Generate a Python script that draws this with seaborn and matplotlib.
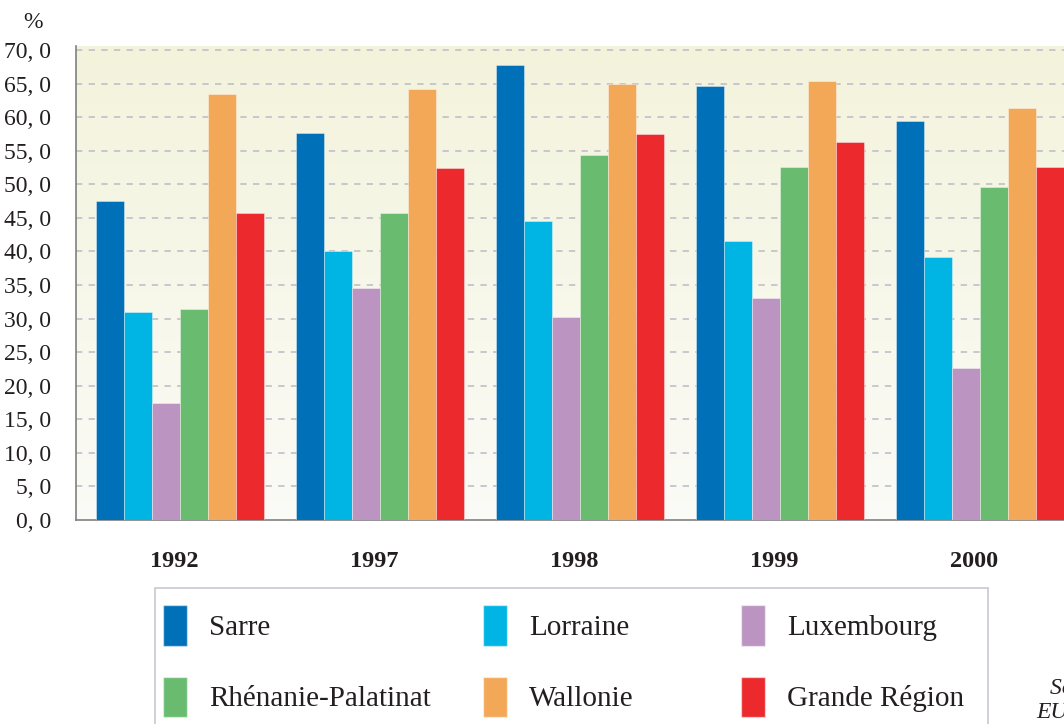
import numpy as np
import pandas as pd
import seaborn as sns
import matplotlib.pyplot as plt
from matplotlib.patches import Patch, Rectangle
from matplotlib.transforms import ScaledTranslation

years = ["1992", "1997", "1998", "1999", "2000"]
regions = ["Sarre", "Lorraine", "Luxembourg", "Rhénanie-Palatinat", "Wallonie", "Grande Région"]
sarre = [47.5, 57.6, 67.8, 64.7, 59.4]
lorraine = [31.0, 40.1, 44.6, 41.6, 39.2]
luxembourg = [17.5, 34.5, 30.3, 33.0, 22.6]
rhenanie = [31.5, 45.8, 54.3, 52.6, 49.6]
wallonie = [63.5, 64.2, 65.0, 65.4, 61.3]
grande_region = [45.7, 52.4, 57.5, 56.3, 52.6]
colors = ["#0070b8", "#00b4e4", "#bb94c2", "#69bc6f", "#f3a857", "#ec2a2e"]

series = [sarre, lorraine, luxembourg, rhenanie, wallonie, grande_region]
df = pd.DataFrame(
    [(y, r, v) for r, vals in zip(regions, series) for y, v in zip(years, vals)],
    columns=["annee", "region", "valeur"],
)

sns.set_style("white")
plt.rcParams["font.family"] = ["Liberation Serif", "DejaVu Serif"]
txt = "#231f20"

fig = plt.figure(figsize=(10.64, 7.24), dpi=100)
W, H = 1064, 724
ax = fig.add_axes([76 / W, 204 / H, 1000 / W, 474 / H])

# fond en degrade jaune pale -> blanc
grad = np.linspace(0, 1, 256).reshape(-1, 1)
top = np.array([243, 243, 220]) / 255
bot = np.array([251, 251, 247]) / 255
img = top * (1 - grad[..., None]) + bot * grad[..., None]
img = img.reshape(256, 1, 3)

sns.barplot(data=df, x="annee", y="valeur", hue="region", hue_order=regions,
            palette=colors, width=0.84, gap=0, saturation=1, ax=ax,
            edgecolor="white", linewidth=0.6, legend=False, zorder=3)
for p in ax.patches:
    p.set_edgecolor((1, 1, 1, 0.45))

x0, x1 = -0.52, 4.48
ax.imshow(img, extent=[x0, x1, 0, 70.6], aspect="auto", zorder=0)
ax.set_xlim(x0, x1)
ax.set_ylim(0, 70.6)

yt = np.arange(0, 71, 5)
ax.set_yticks(yt)
ax.set_yticklabels([f"{v:.1f}".replace(".", ", ") for v in yt], fontsize=17, color=txt)
for v in yt[1:]:
    ax.axhline(v, color="#c3c3cc", lw=1.3, ls=(0, (3.5, 3.5)), zorder=1)

ax.set_xticks(range(5))
ax.set_xticklabels(years, fontsize=17.5, fontweight="bold", color=txt)
ax.set_xticks(np.arange(0.47, 5, 1), minor=True)
ax.tick_params(axis="x", which="major", length=0, pad=22)
ax.tick_params(axis="x", which="minor", length=7, width=1, color="#808080", direction="out")
ax.tick_params(axis="y", length=8, width=1, color="#808080", direction="out", pad=10)
for lbl in ax.get_xticklabels():
    lbl.set_transform(lbl.get_transform() + ScaledTranslation(-0.06, 0, fig.dpi_scale_trans))
ax.set_xlabel("")
ax.set_ylabel("")

for s in ["top", "right"]:
    ax.spines[s].set_visible(False)
for s in ["left", "bottom"]:
    ax.spines[s].set_color("#808080")
    ax.spines[s].set_linewidth(1.2)

fig.text(33 / W, 1 - 23 / H, "%", fontsize=17, color=txt, ha="center", va="center")

# legende encadree, une colonne par legende
fig.patches.append(Rectangle((155 / W, -0.05), 833 / W, (724 - 588) / H + 0.05,
                             transform=fig.transFigure, fill=False,
                             edgecolor="#c8c8d0", lw=1.2))
cols = [(0, 3, 163), (1, 4, 483), (2, 5, 741)]
for a, b, xl in cols:
    hs = [Patch(facecolor=colors[i], edgecolor=(1, 1, 1, 0.5), label=regions[i]) for i in (a, b)]
    fig.legend(handles=hs, loc="upper left", bbox_to_anchor=(xl / W, 1 - 605 / H),
               frameon=False, fontsize=21, handlelength=0.82, handleheight=1.78,
               handletextpad=0.75, labelspacing=1.05, borderpad=0, borderaxespad=0,
               labelcolor=txt)

fig.text(1050 / W, 1 - 688 / H, "Source :", fontsize=17, style="italic", color=txt, va="center")
fig.text(1036 / W, 1 - 712 / H, "EUROSTAT", fontsize=17, style="italic", color=txt, va="center")

fig.savefig("out.png", dpi=100)
